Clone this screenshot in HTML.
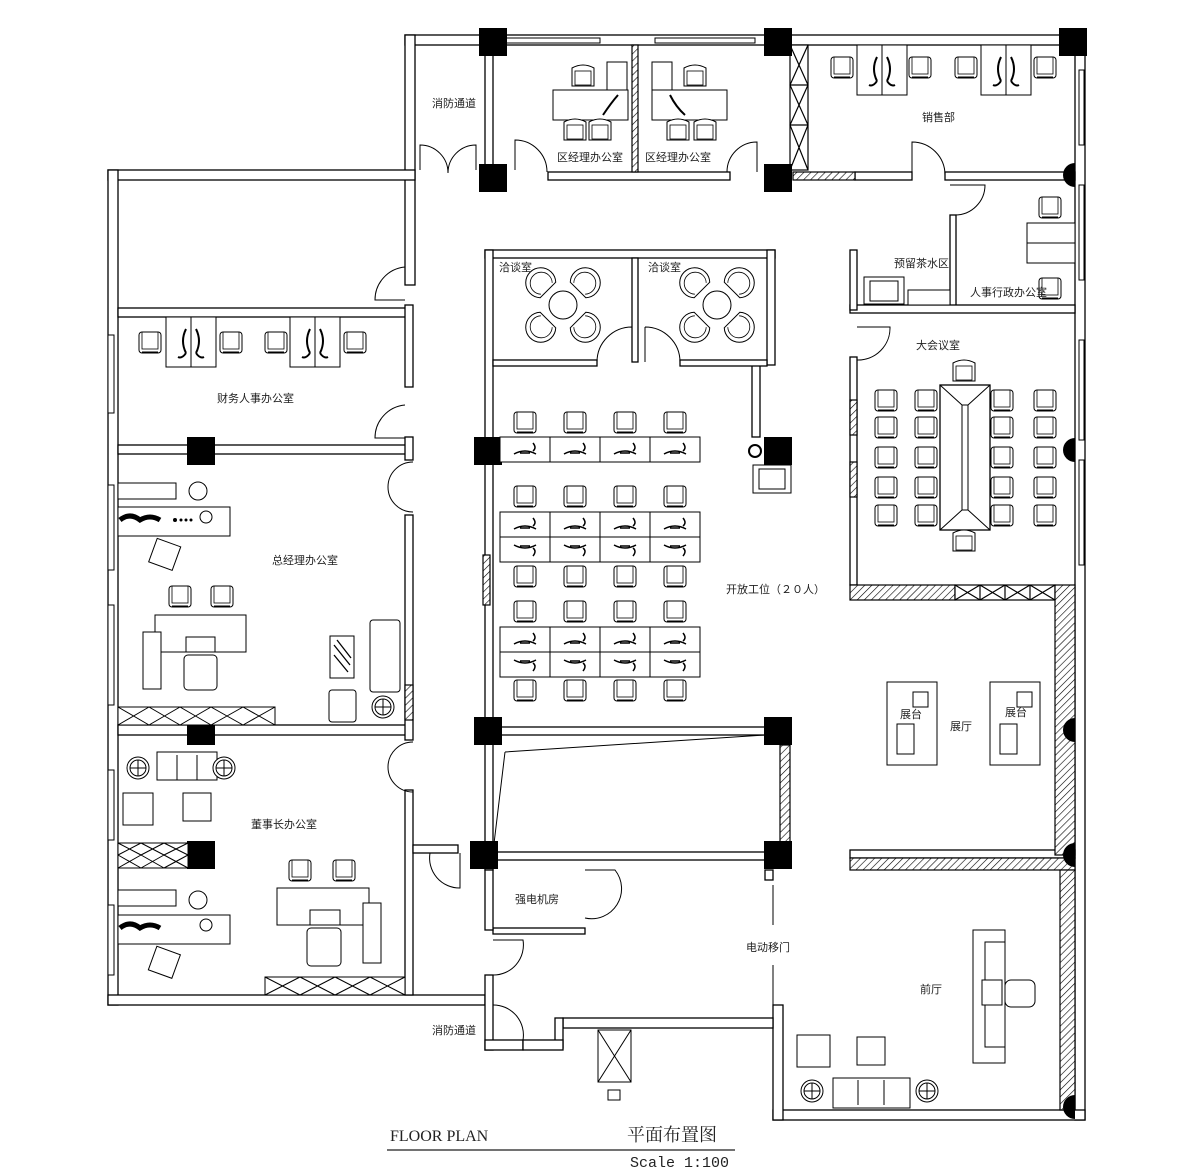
<!DOCTYPE html>
<html><head><meta charset="utf-8"><style>
html,body{margin:0;padding:0;background:#fff;}
svg{display:block;font-family:"Liberation Sans","Noto Sans CJK SC",sans-serif;}
.t{font-size:11px;fill:#222;}
</style></head><body>
<svg width="1188" height="1172" viewBox="0 0 1188 1172" xmlns="http://www.w3.org/2000/svg">
<defs>
<pattern id="h" patternUnits="userSpaceOnUse" width="5" height="5" patternTransform="rotate(45)">
<rect width="5" height="5" fill="#fff"/><line x1="0" y1="0" x2="0" y2="5" stroke="#000" stroke-width="1.2"/></pattern>
<g id="ch"><rect x="-11" y="-10" width="22" height="21" rx="3" fill="#fff" stroke="#000" stroke-width="1"/><rect x="-8" y="-10" width="16" height="17" fill="none" stroke="#000" stroke-width="0.8"/><line x1="-8" y1="10" x2="8" y2="10" stroke="#000"/></g>
<g id="rc"><path d="M-11,-9 q11,-6 22,0 v18 h-22z" fill="#fff" stroke="#000"/><rect x="-8" y="-6" width="16" height="14" fill="none" stroke="#000" stroke-width=".8"/></g>
<g id="cl"><rect x="-14" y="-14" width="28" height="28" fill="#000"/></g>
<g id="dk"><rect x="0" y="0" width="50" height="25" fill="#fff" stroke="#000"/><path d="M14,17 q11,-6 22,0 M20,16 h10 M33,14 q4,-3 0,-8" fill="none" stroke="#000" stroke-width="1.5"/></g>
<g id="dk2"><rect x="0" y="0" width="50" height="25" fill="#fff" stroke="#000"/><path d="M14,8 q11,6 22,0 M20,9 h10 M33,11 q4,3 0,8" fill="none" stroke="#000" stroke-width="1.5"/></g>
<g id="cab"><rect x="0" y="0" width="50" height="50" fill="#fff" stroke="#000"/><line x1="25" y1="0" x2="25" y2="50" stroke="#000"/><path d="M20,12 q-6,12 0,24 M30,12 q6,12 0,24 M20,36 q-4,6 -8,4 M30,36 q4,6 8,4" fill="none" stroke="#000" stroke-width="2"/></g>
<g id="cs"><circle r="11" fill="#fff" stroke="#000"/><circle r="8" fill="none" stroke="#000"/><path d="M-8,0h16M0,-8v16" stroke="#000"/></g>
<g id="nc"><path d="M-11,7 A15,15 0 1 1 11,7 Z" fill="#fff" stroke="#000"/><path d="M-8,5 A11,11 0 1 1 8,5" fill="none" stroke="#000" stroke-width=".8"/></g>
</defs>
<g fill="#fff" stroke="#000" stroke-width="1.3">
<rect x="405" y="35" width="680" height="10"/>
<rect x="1075" y="35" width="10" height="1085"/>
<rect x="405" y="35" width="10" height="250"/>
<rect x="108" y="170" width="307" height="10"/>
<rect x="108" y="170" width="10" height="835"/>
<rect x="108" y="995" width="377" height="10"/>
<rect x="773" y="1110" width="312" height="10"/>
<rect x="773" y="1005" width="10" height="115"/>
<rect x="118" y="308" width="292" height="9"/>
<rect x="118" y="445" width="292" height="9"/>
<rect x="118" y="725" width="292" height="10"/>
<rect x="405" y="305" width="8" height="82"/>
<rect x="405" y="437" width="8" height="23"/>
<rect x="405" y="515" width="8" height="225"/>
<rect x="405" y="790" width="8" height="205"/>
<rect x="413" y="845" width="45" height="8"/>
<rect x="485" y="45" width="8" height="127"/>
<rect x="548" y="172" width="182" height="8"/>
<rect x="485" y="250" width="290" height="8"/>
<rect x="485" y="250" width="8" height="620"/>
<rect x="767" y="250" width="8" height="115"/>
<rect x="752" y="365" width="8" height="72"/>
<rect x="493" y="360" width="104" height="6"/>
<rect x="680" y="360" width="87" height="6"/>
<rect x="632" y="258" width="6" height="104"/>
<rect x="493" y="727" width="280" height="8"/>
<rect x="493" y="852" width="280" height="8"/>
<rect x="493" y="928" width="92" height="6"/>
<rect x="485" y="870" width="8" height="60"/>
<rect x="485" y="975" width="8" height="75"/>
<rect x="485" y="1040" width="38" height="10"/>
<rect x="563" y="1018" width="210" height="10"/>
<rect x="555" y="1018" width="8" height="30"/>
<rect x="523" y="1040" width="40" height="10"/>
<rect x="765" y="870" width="8" height="10"/>
<rect x="855" y="172" width="57" height="8"/>
<rect x="945" y="172" width="130" height="8"/>
<rect x="950" y="215" width="6" height="95"/>
<rect x="850" y="305" width="225" height="8"/>
<rect x="850" y="250" width="7" height="60"/>
<rect x="850" y="357" width="7" height="228"/>
<rect x="850" y="850" width="225" height="8"/>
</g>
<g stroke="#000" stroke-width="1.2">
<rect x="793" y="172" width="62" height="8" fill="url(#h)"/>
<rect x="632" y="45" width="6" height="127" fill="url(#h)"/>
<rect x="850" y="585" width="105" height="15" fill="url(#h)"/>
<rect x="955" y="585" width="100" height="15" fill="#fff"/>
<rect x="1055" y="585" width="20" height="270" fill="url(#h)"/>
<rect x="850" y="858" width="225" height="12" fill="url(#h)"/>
<rect x="1060" y="870" width="15" height="240" fill="url(#h)"/>
<rect x="780" y="745" width="10" height="97" fill="url(#h)"/>
<rect x="850" y="400" width="7" height="35" fill="url(#h)"/>
<rect x="850" y="462" width="7" height="35" fill="url(#h)"/>
<rect x="483" y="555" width="7" height="50" fill="url(#h)"/>
<rect x="405" y="685" width="8" height="35" fill="url(#h)"/>
<rect x="790" y="45" width="18" height="125" fill="#fff"/>
<path d="M790,45 L808,85 L790,125 L808,170 M808,45 L790,85 L808,125 L790,170 M790,85h18M790,125h18" fill="none"/>
<path d="M955,585 l25,15 m0,-15 l-25,15 M980,585 l25,15 m0,-15 l-25,15 M1005,585 l25,15 m0,-15 l-25,15 M1030,585 l25,15 m0,-15 l-25,15 M980,585v15M1005,585v15M1030,585v15" fill="none"/>
</g>
<g fill="#fff" stroke="#000" stroke-width="1">
<rect x="108" y="335" width="6" height="78"/><rect x="108" y="485" width="6" height="85"/><rect x="108" y="605" width="6" height="100"/>
<rect x="108" y="770" width="6" height="70"/><rect x="108" y="905" width="6" height="70"/>
<rect x="505" y="38" width="95" height="5"/><rect x="655" y="38" width="100" height="5"/>
<rect x="1079" y="70" width="5" height="75"/><rect x="1079" y="185" width="5" height="95"/><rect x="1079" y="340" width="5" height="100"/><rect x="1079" y="460" width="5" height="105"/>
</g>
<g>
<use href="#cl" x="493" y="42"/><use href="#cl" x="778" y="42"/><use href="#cl" x="1073" y="42"/>
<use href="#cl" x="493" y="178"/><use href="#cl" x="778" y="178"/>
<use href="#cl" x="201" y="451"/><use href="#cl" x="488" y="451"/><use href="#cl" x="778" y="451"/>
<use href="#cl" x="201" y="731"/><use href="#cl" x="488" y="731"/><use href="#cl" x="778" y="731"/>
<use href="#cl" x="201" y="855"/><use href="#cl" x="484" y="855"/><use href="#cl" x="778" y="855"/>
</g>
<g fill="#000"><path d="M1075,163 a12,12 0 0 0 0,24z"/><path d="M1075,438 a12,12 0 0 0 0,24z"/><path d="M1075,718 a12,12 0 0 0 0,24z"/><path d="M1075,843 a12,12 0 0 0 0,24z"/><path d="M1075,1095 a12,12 0 0 0 0,24z"/></g>
<g fill="none" stroke="#000" stroke-width="1">
<path d="M420,170 v-25 a28,28 0 0 1 28,28 M476,170 v-25 a28,28 0 0 0 -28,28"/>
<path d="M515,170 v-30 a32,32 0 0 1 32,32"/>
<path d="M727,172 a30,30 0 0 1 30,-30 v30"/>
<path d="M912,175 v-33 a33,33 0 0 1 33,33"/>
<path d="M950,185 h35 a30,30 0 0 1 -30,30"/>
<path d="M857,327 h33 a32,32 0 0 1 -33,33"/>
<path d="M405,267 a33,33 0 0 0 -30,33 h30"/>
<path d="M405,405 a33,33 0 0 0 -30,33 h30"/>
<path d="M413,462 a25,25 0 0 0 -25,25 a25,25 0 0 0 25,25"/>
<path d="M413,742 a25,25 0 0 0 -25,25 a25,25 0 0 0 25,25"/>
<path d="M597,362 a35,35 0 0 1 35,-35 M680,362 a35,35 0 0 0 -35,-35 M632,327v35M645,327v35"/>
<path d="M430,853 a30,30 0 0 0 30,35 v-35"/>
<path d="M585,870 h30 a30,30 0 0 1 -30,48"/>
<path d="M493,940 h30 a30,30 0 0 1 -30,35"/>
<path d="M493,1005 a30,30 0 0 1 30,35 h-30"/>
<path d="M505,752 L765,735 M505,752 L493,852"/>
<path d="M773,885 v40 M773,965 v40"/>
</g>
<g stroke="#000" fill="#fff">
<rect x="553" y="90" width="75" height="30"/><rect x="607" y="62" width="20" height="28"/>
<rect x="652" y="90" width="75" height="30"/><rect x="652" y="62" width="20" height="28"/>
<path d="M603,115 q8,-12 15,-20 M670,95 q6,12 15,20" fill="none" stroke-width="2"/>
</g>
<use href="#rc" x="583" y="77"/><use href="#rc" x="575" y="131"/><use href="#rc" x="600" y="131"/>
<use href="#rc" x="695" y="77"/><use href="#rc" x="678" y="131"/><use href="#rc" x="705" y="131"/>
<use href="#cab" x="857" y="45"/><use href="#cab" x="981" y="45"/>
<use href="#ch" x="842" y="67"/><use href="#ch" x="920" y="67"/><use href="#ch" x="966" y="67"/><use href="#ch" x="1045" y="67"/>
<rect x="1027" y="223" width="48" height="40" fill="#fff" stroke="#000"/><line x1="1027" y1="243" x2="1075" y2="243" stroke="#000"/>
<use href="#ch" x="1050" y="207"/><use href="#ch" x="1050" y="288"/>
<rect x="864" y="277" width="40" height="27" fill="#fff" stroke="#000"/><rect x="870" y="281" width="28" height="20" fill="none" stroke="#000"/>
<rect x="908" y="290" width="42" height="15" fill="#fff" stroke="#000"/>
<!-- negotiation -->
<g>
<circle cx="563" cy="305" r="14" fill="#fff" stroke="#000"/>
<g transform="translate(543,285) rotate(-45)"><use href="#nc"/></g>
<g transform="translate(583,285) rotate(45)"><use href="#nc"/></g>
<g transform="translate(543,325) rotate(-135)"><use href="#nc"/></g>
<g transform="translate(583,325) rotate(135)"><use href="#nc"/></g>
<circle cx="717" cy="305" r="14" fill="#fff" stroke="#000"/>
<g transform="translate(697,285) rotate(-45)"><use href="#nc"/></g>
<g transform="translate(737,285) rotate(45)"><use href="#nc"/></g>
<g transform="translate(697,325) rotate(-135)"><use href="#nc"/></g>
<g transform="translate(737,325) rotate(135)"><use href="#nc"/></g>
</g>
<g>
<use href="#ch" x="525" y="422"/><use href="#ch" x="575" y="422"/><use href="#ch" x="625" y="422"/><use href="#ch" x="675" y="422"/>
<use href="#dk" x="500" y="437"/><use href="#dk" x="550" y="437"/><use href="#dk" x="600" y="437"/><use href="#dk" x="650" y="437"/>
<use href="#ch" x="525" y="496"/><use href="#ch" x="575" y="496"/><use href="#ch" x="625" y="496"/><use href="#ch" x="675" y="496"/>
<use href="#dk" x="500" y="512"/><use href="#dk" x="550" y="512"/><use href="#dk" x="600" y="512"/><use href="#dk" x="650" y="512"/>
<use href="#dk2" x="500" y="537"/><use href="#dk2" x="550" y="537"/><use href="#dk2" x="600" y="537"/><use href="#dk2" x="650" y="537"/>
<use href="#ch" x="525" y="576"/><use href="#ch" x="575" y="576"/><use href="#ch" x="625" y="576"/><use href="#ch" x="675" y="576"/>
<use href="#ch" x="525" y="611"/><use href="#ch" x="575" y="611"/><use href="#ch" x="625" y="611"/><use href="#ch" x="675" y="611"/>
<use href="#dk" x="500" y="627"/><use href="#dk" x="550" y="627"/><use href="#dk" x="600" y="627"/><use href="#dk" x="650" y="627"/>
<use href="#dk2" x="500" y="652"/><use href="#dk2" x="550" y="652"/><use href="#dk2" x="600" y="652"/><use href="#dk2" x="650" y="652"/>
<use href="#ch" x="525" y="690"/><use href="#ch" x="575" y="690"/><use href="#ch" x="625" y="690"/><use href="#ch" x="675" y="690"/>
</g>
<rect x="753" y="465" width="38" height="28" fill="#fff" stroke="#000"/><rect x="759" y="469" width="26" height="20" fill="none" stroke="#000"/>
<circle cx="755" cy="451" r="6" fill="#fff" stroke="#000" stroke-width="2"/>
<g>
<rect x="940" y="385" width="50" height="145" fill="#fff" stroke="#000" stroke-width="1.3"/>
<path d="M940,385 L962,405 L968,405 L990,385 M940,530 L962,510 L968,510 L990,530 M962,405V510 M968,405V510" fill="none" stroke="#000"/>
<use href="#rc" x="964" y="372"/><use href="#rc" x="964" y="542"/>
<use href="#ch" x="886" y="400"/><use href="#ch" x="886" y="427"/><use href="#ch" x="886" y="457"/><use href="#ch" x="886" y="487"/><use href="#ch" x="886" y="515"/>
<use href="#ch" x="926" y="400"/><use href="#ch" x="926" y="427"/><use href="#ch" x="926" y="457"/><use href="#ch" x="926" y="487"/><use href="#ch" x="926" y="515"/>
<use href="#ch" x="1002" y="400"/><use href="#ch" x="1002" y="427"/><use href="#ch" x="1002" y="457"/><use href="#ch" x="1002" y="487"/><use href="#ch" x="1002" y="515"/>
<use href="#ch" x="1045" y="400"/><use href="#ch" x="1045" y="427"/><use href="#ch" x="1045" y="457"/><use href="#ch" x="1045" y="487"/><use href="#ch" x="1045" y="515"/>
</g>
<use href="#cab" x="166" y="317"/><use href="#cab" x="290" y="317"/>
<use href="#ch" x="150" y="342"/><use href="#ch" x="231" y="342"/><use href="#ch" x="276" y="342"/><use href="#ch" x="355" y="342"/>
<g fill="#fff" stroke="#000">
<rect x="118" y="483" width="58" height="16"/><circle cx="198" cy="491" r="9"/>
<rect x="118" y="507" width="112" height="29"/><circle cx="206" cy="517" r="6"/>
<rect x="155" y="615" width="91" height="37"/><rect x="143" y="632" width="18" height="57"/><rect x="186" y="637" width="29" height="15"/>
<rect x="184" y="655" width="33" height="35" rx="4"/>
<rect x="330" y="636" width="24" height="42"/><path d="M334,645 l16,20 M334,655 l14,17 M337,640 l14,18" stroke-width="1.3"/>
<rect x="370" y="620" width="30" height="72" rx="3"/>
<rect x="329" y="690" width="27" height="32" rx="3"/><use href="#cs" x="383" y="707"/>
<rect x="118" y="707" width="157" height="18"/>
<path d="M118,707 l31,18 m0,-18 l-31,18 M149,707 l31,18 m0,-18 l-31,18 M180,707 l31,18 m0,-18 l-31,18 M211,707 l32,18 m0,-18 l-32,18 M243,707 l32,18 m0,-18 l-32,18" fill="none"/>
</g>
<path d="M120,520 q10,-8 20,0 q10,-6 20,0" stroke="#000" stroke-width="5" fill="none"/>
<g fill="#000"><circle cx="175" cy="520" r="2"/><circle cx="181" cy="520" r="1.5"/><circle cx="186" cy="520" r="1.5"/><circle cx="191" cy="520" r="1.5"/></g>
<use href="#ch" x="180" y="596"/><use href="#ch" x="222" y="596"/>
<rect x="152" y="542" width="25" height="25" fill="#fff" stroke="#000" transform="rotate(20 165 555)"/>
<g fill="#fff" stroke="#000">
<rect x="157" y="752" width="60" height="28"/><path d="M177,755v25M197,755v25"/>
<use href="#cs" x="138" y="768"/><use href="#cs" x="224" y="768"/>
<rect x="123" y="793" width="30" height="32"/><rect x="183" y="793" width="28" height="28"/>
<rect x="118" y="843" width="70" height="25"/>
<path d="M118,843 l23,12 m0,-12 l-23,12 M141,843 l23,12 m0,-12 l-23,12 M164,843 l24,12 m0,-12 l-24,12 M118,855 l23,13 m0,-13 l-23,13 M141,855 l23,13 m0,-13 l-23,13 M164,855 l24,13 m0,-13 l-24,13" fill="none"/>
<rect x="118" y="890" width="58" height="16"/><circle cx="198" cy="900" r="9"/>
<rect x="118" y="915" width="112" height="29"/><circle cx="206" cy="925" r="6"/>
<rect x="277" y="888" width="92" height="37"/><rect x="363" y="903" width="18" height="60"/><rect x="310" y="910" width="30" height="15"/>
<rect x="307" y="928" width="34" height="38" rx="4"/>
<rect x="265" y="977" width="140" height="18"/>
<path d="M265,977 l35,18 m0,-18 l-35,18 M300,977 l35,18 m0,-18 l-35,18 M335,977 l35,18 m0,-18 l-35,18 M370,977 l35,18 m0,-18 l-35,18" fill="none"/>
<rect x="152" y="950" width="25" height="25" transform="rotate(20 165 962)"/>
</g>
<path d="M120,928 q10,-8 20,0 q10,-6 20,0" stroke="#000" stroke-width="5" fill="none"/>
<use href="#ch" x="300" y="870"/><use href="#ch" x="344" y="870"/>
<g fill="#fff" stroke="#000">
<rect x="887" y="682" width="50" height="83"/><rect x="913" y="692" width="15" height="15"/><rect x="897" y="724" width="17" height="30"/>
<rect x="990" y="682" width="50" height="83"/><rect x="1017" y="692" width="15" height="15"/><rect x="1000" y="724" width="17" height="30"/>
<rect x="973" y="930" width="32" height="133"/><rect x="985" y="942" width="20" height="105"/>
<rect x="982" y="980" width="20" height="25"/>
<rect x="1005" y="980" width="30" height="27" rx="6"/>
<rect x="797" y="1035" width="33" height="32"/><rect x="857" y="1037" width="28" height="28"/>
<rect x="833" y="1078" width="77" height="30"/><path d="M858,1080v25M884,1080v25"/>
</g>
<use href="#cs" x="812" y="1091"/><use href="#cs" x="927" y="1091"/>
<g fill="#fff" stroke="#000">
<rect x="598" y="1030" width="33" height="52"/><path d="M598,1030 L631,1082 M631,1030 L598,1082" fill="none"/>
<rect x="608" y="1090" width="12" height="10"/>
</g>
<g class="t">
<text x="432" y="107">消防通道</text>
<text x="557" y="161">区经理办公室</text>
<text x="645" y="161">区经理办公室</text>
<text x="922" y="121">销售部</text>
<text x="894" y="267">预留茶水区</text>
<text x="970" y="296">人事行政办公室</text>
<text x="499" y="271">洽谈室</text>
<text x="648" y="271">洽谈室</text>
<text x="916" y="349">大会议室</text>
<text x="217" y="402">财务人事办公室</text>
<text x="272" y="564">总经理办公室</text>
<text x="726" y="593">开放工位（２０人）</text>
<text x="950" y="730">展厅</text>
<text x="900" y="718">展台</text>
<text x="1005" y="716">展台</text>
<text x="251" y="828">董事长办公室</text>
<text x="515" y="903">强电机房</text>
<text x="746" y="951">电动移门</text>
<text x="920" y="993">前厅</text>
<text x="432" y="1034">消防通道</text>
</g>
<text x="390" y="1141" font-family="Liberation Serif,serif" font-size="16" fill="#222">FLOOR PLAN</text>
<text x="627" y="1141" font-family="Liberation Serif,'Noto Serif CJK SC',serif" font-size="18" fill="#222">平面布置图</text>
<line x1="387" y1="1150" x2="735" y2="1150" stroke="#444" stroke-width="1.5"/>
<text x="630" y="1167" font-family="Liberation Mono,monospace" font-size="15" fill="#222">Scale 1:100</text>
</svg>
</body></html>
